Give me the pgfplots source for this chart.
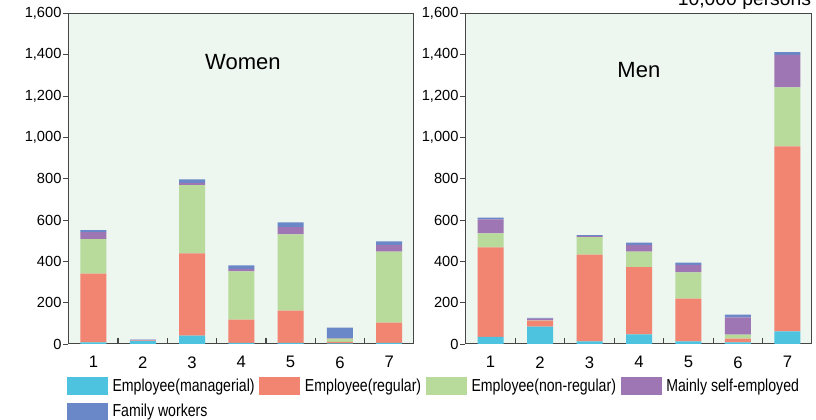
\documentclass[border=0pt]{standalone}
\usepackage{fontspec}
\setmainfont{Liberation Sans}
\newfontfamily\legfont{Liberation Sans}[FakeStretch=0.815]
\usepackage{pgfplots}
\usepackage{pgfplotstable}
\pgfplotsset{compat=1.18}
\definecolor{cman}{RGB}{77,195,224}
\definecolor{creg}{RGB}{242,132,114}
\definecolor{cnon}{RGB}{184,219,156}
\definecolor{cself}{RGB}{158,118,180}
\definecolor{cfam}{RGB}{106,136,200}
\definecolor{bg}{RGB}{238,246,240}
\definecolor{axcol}{RGB}{70,70,70}

\pgfplotstableread{
x man reg non self fam
1 8 333 166 34 10
2 15 2 0 3 1
3 40 398 331 11 16
4 6 112 233 12 17
5 6 156 368 35 23
6 3 7 16 3 50
7 6 97 344 33 16
}\women
\pgfplotstableread{
x man reg non self fam
1 34 433 68 68 9
2 84 29 1 9 3
3 13 420 84 5 5
4 47 325 75 33 11
5 13 207 126 37 11
6 8 18 19 84 13
7 61 895 286 157 13
}\men

\newcommand{\halfticks}{%
  \pgfplotsinvokeforeach{1.5,2.5,3.5,4.5,5.5,6.5}{%
    \draw[axcol, line width=1pt] (axis cs:##1,0) -- ++(0pt,4.5pt);}}

\pgfplotsset{
  sw/.style={legend image code/.code={\fill[##1] (0pt,-6.75pt) rectangle (30.75pt,6.75pt);}},
  panel/.style={
    scale only axis, height=248pt,
    ybar stacked, bar width=19.5pt,
    ymin=0, ymax=1600, ytick={0,200,...,1600},
    xmin=0.49, xmax=7.49, xtick={1,...,7},
    minor y tick num=0,
    axis background/.style={fill=bg},
    axis line style={draw=axcol, line width=0.75pt},
    ytick pos=left, xtick pos=bottom,
    tick align=outside,
    major tick length=3.75pt,
    y tick style={draw=axcol, line width=0.6pt},
    x tick style={draw=none},
    /pgf/number format/assume math mode=true,
    /pgf/number format/1000 sep={,},
    yticklabel style={font=\fontsize{11}{13}\selectfont, inner sep=1.2pt},
    xticklabel style={font=\fontsize{12.5}{14}\selectfont, yshift=-2pt},
    every axis plot/.append style={draw=none},
  }
}

\begin{document}
\begin{tikzpicture}
\begin{axis}[panel, at={(51.25pt,57pt)}, anchor=south west, width=258.75pt,
  legend columns=4, legend cell align=left,
  legend style={at={(axis description cs:-0.005,-0.097)}, anchor=north west,
    draw=none, fill=none, inner sep=0pt,
    font=\legfont\fontsize{13}{15}\selectfont, row sep=4pt,
    /tikz/every odd column/.append style={column sep=1.5pt},
    /tikz/every even column/.append style={column sep=1.5pt}},
]
\addplot+[fill=cman, sw] table[x=x,y=man]{\women};
\addlegendentry{Employee(managerial)}
\addplot+[fill=creg, sw] table[x=x,y=reg]{\women};
\addlegendentry{Employee(regular)}
\addplot+[fill=cnon, sw] table[x=x,y=non]{\women};
\addlegendentry{Employee(non-regular)}
\addplot+[fill=cself, sw] table[x=x,y=self]{\women};
\addlegendentry{Mainly self-employed}
\addplot+[fill=cfam, sw] table[x=x,y=fam]{\women};
\addlegendentry{Family workers}
\halfticks
\node[font=\fontsize{16.5}{18}\selectfont] at (axis description cs:0.506,0.853) {Women};
\end{axis}
\begin{axis}[panel, at={(349pt,57pt)}, anchor=south west, width=259.75pt]
\addplot+[fill=cman] table[x=x,y=man]{\men};
\addplot+[fill=creg] table[x=x,y=reg]{\men};
\addplot+[fill=cnon] table[x=x,y=non]{\men};
\addplot+[fill=cself] table[x=x,y=self]{\men};
\addplot+[fill=cfam] table[x=x,y=fam]{\men};
\halfticks
\node[font=\fontsize{16.5}{18}\selectfont] at (axis description cs:0.501,0.829) {Men};
\end{axis}
\node[anchor=base east, font=\fontsize{14.5}{16}\selectfont, inner sep=0pt] at (608.5pt,310.5pt) {10,000 persons};
\pgfresetboundingbox
\useasboundingbox (0pt,0pt) rectangle (612pt,315pt);
\end{tikzpicture}
\end{document}
